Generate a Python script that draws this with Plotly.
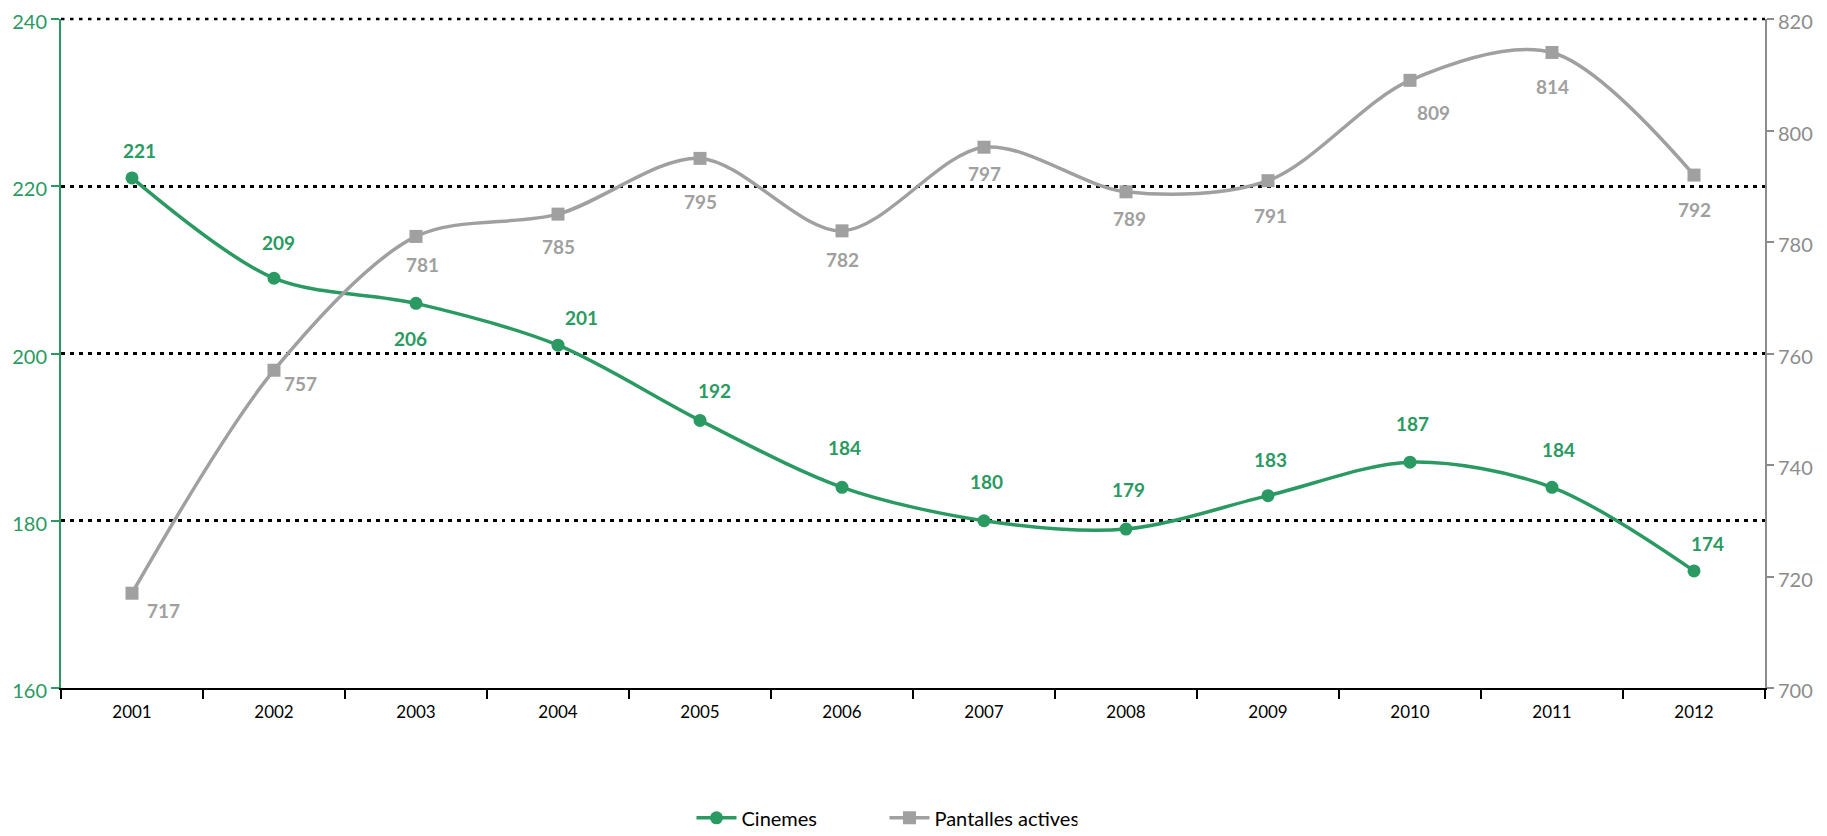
import plotly.graph_objects as go

years = ["2001", "2002", "2003", "2004", "2005", "2006", "2007", "2008", "2009", "2010", "2011", "2012"]
cinemes = [221, 209, 206, 201, 192, 184, 180, 179, 183, 187, 184, 174]
pantalles = [717, 757, 781, 785, 795, 782, 797, 789, 791, 809, 814, 792]

left_ticks = [160, 180, 200, 220, 240]
right_ticks = [700, 720, 740, 760, 780, 800, 820]

# label offsets (px) for data labels
cin_dx = [7, 4, -6, 23, 14, 2, 2, 2, 2, 2, 6, 13]
cin_dy = [27, 36, -35, 28, 30, 40, 39, 40, 36, 39, 38, 27]
pan_dx = [31, 26, 6, 0, 0, 0, 0, 3, 2, 23, 0, 0]
pan_dy = [-17, -13, -28, -32, -43, -29, -26, -27, -35, -32, -34, -34]

GREEN = "#2A9A62"
GRAY = "#A0A0A0"
AXGRAY = "#8C8C8C"
FONT = "Lato, Open Sans, sans-serif"
GRID_DASH = "3.5px,5.5px"

fig = go.Figure()
fig.add_trace(go.Scatter(
    x=years, y=cinemes, name="Cinemes", mode="lines+markers",
    line=dict(color=GREEN, width=3.5, shape="spline", smoothing=0.9),
    marker=dict(symbol="circle", size=13, color=GREEN),
))
fig.add_trace(go.Scatter(
    x=years, y=pantalles, name="Pantalles actives", mode="lines+markers",
    line=dict(color=GRAY, width=3.5, shape="spline", smoothing=0.9),
    marker=dict(symbol="square", size=13, color=GRAY),
    yaxis="y2",
))

for i, v in enumerate(cinemes):
    fig.add_annotation(
        x=i, y=v, xref="x", yref="y", text="<b>%d</b>" % v, showarrow=False,
        xshift=cin_dx[i], yshift=cin_dy[i],
        font=dict(family=FONT, size=19, color=GREEN),
    )
for i, v in enumerate(pantalles):
    fig.add_annotation(
        x=i, y=v, xref="x", yref="y2", text="<b>%d</b>" % v, showarrow=False,
        xshift=pan_dx[i], yshift=pan_dy[i],
        font=dict(family=FONT, size=19, color=GRAY),
    )

# top gridline along the plot's upper edge (plotly drops the gridline lying on the edge)
fig.add_shape(type="line", xref="paper", yref="paper", x0=0, x1=1, y0=1, y1=1,
              line=dict(color="black", width=2.5, dash=GRID_DASH), layer="above")

fig.update_layout(
    width=1819, height=828,
    margin=dict(l=53, r=62, t=11, b=148, autoexpand=False),
    paper_bgcolor="white", plot_bgcolor="white",
    font=dict(family=FONT, size=18, color="black"),
    showlegend=True,
    legend=dict(
        orientation="h", x=0.370, xanchor="left",
        yref="container", y=0.022, yanchor="middle",
        font=dict(family=FONT, size=20, color="black"),
        itemwidth=40, entrywidth=138,
    ),
    xaxis=dict(
        type="category", range=[-0.5, 11.5], automargin=False,
        tickson="boundaries", ticks="outside", ticklen=9, tickwidth=2, tickcolor="black",
        ticklabelstandoff=8,
        showline=True, linecolor="black", linewidth=2,
        showgrid=False, zeroline=False,
        tickfont=dict(family=FONT, size=17, color="black"),
    ),
    yaxis=dict(
        range=[160, 240], tickvals=left_ticks, automargin=False,
        ticklabeloverflow="allow", ticklabelshift=3,
        ticks="outside", ticklen=8, tickwidth=2, tickcolor=GREEN,
        showline=True, linecolor=GREEN, linewidth=2,
        showgrid=True, gridcolor="black", gridwidth=2.5, griddash=GRID_DASH,
        zeroline=False,
        tickfont=dict(family=FONT, size=20, color=GREEN),
    ),
    yaxis2=dict(
        range=[700, 820], tickvals=right_ticks, overlaying="y", side="right",
        automargin=False, ticklabeloverflow="allow", ticklabelshift=3,
        ticks="outside", ticklen=7, tickwidth=2, tickcolor=AXGRAY,
        showline=True, linecolor=AXGRAY, linewidth=2,
        showgrid=False, zeroline=False,
        tickfont=dict(family=FONT, size=20, color=AXGRAY),
    ),
)

fig.write_html("out.html")
